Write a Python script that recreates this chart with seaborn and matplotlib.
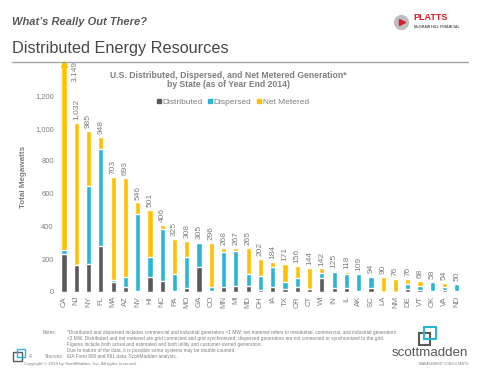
import matplotlib

matplotlib.use("Agg")
import matplotlib.pyplot as plt
import pandas as pd
import seaborn as sns
from matplotlib.lines import Line2D
from matplotlib.patches import Rectangle

states = ["CA", "NJ", "NY", "FL", "MA", "AZ", "NV", "HI", "NC", "PA", "MO",
          "GA", "CO", "MN", "MI", "MD", "OH", "IA", "TX", "OR", "CT", "WI",
          "IN", "IL", "AK", "SC", "LA", "NM", "DE", "VT", "OK", "VA", "ND"]
totals = [3149, 1032, 985, 948, 703, 693, 546, 501, 406, 325, 308, 305, 296,
          268, 267, 265, 202, 184, 171, 156, 144, 142, 125, 118, 109, 94, 90,
          76, 76, 68, 58, 54, 50]
distributed = [230, 161, 170, 282, 61, 27, 5, 92, 65, 2, 25, 153, 6, 27, 35,
               35, 10, 31, 18, 31, 18, 82, 21, 23, 3, 21, 0, 0, 18, 10, 5, 8, 2]
dispersed = [27, 0, 479, 589, 11, 63, 472, 118, 319, 104, 185, 147, 25, 218,
             216, 73, 88, 118, 39, 51, 0, 34, 97, 83, 106, 70, 0, 0, 27, 27,
             53, 21, 48]
# net metered = totals - distributed - dispersed

GREY = "#7f7f7f"
DARK = "#595959"
TEAL = "#29b6d4"
GOLD = "#ffc000"

df = pd.DataFrame({"state": states, "total": totals,
                   "distributed": distributed, "dispersed": dispersed})
df["dist_disp"] = df["distributed"] + df["dispersed"]

sns.set_style("white")
plt.rcParams["font.family"] = ["Liberation Sans", "DejaVu Sans"]

fig = plt.figure(figsize=(4.8, 3.71), dpi=100)
ax = fig.add_axes([0.1206, 0.2137, 0.844, 0.617])

# stacked bars: draw cumulative totals back to front
sns.barplot(data=df, x="state", y="total", color=GOLD, width=0.42,
            saturation=1, ax=ax)
sns.barplot(data=df, x="state", y="dist_disp", color=TEAL, width=0.42,
            saturation=1, ax=ax)
sns.barplot(data=df, x="state", y="distributed", color=DARK, width=0.42,
            saturation=1, ax=ax)

ymax = 1400
ax.set_ylim(0, ymax)
ax.set_xlim(-0.5, len(states) - 0.5)
ax.set_yticks(range(0, 1201, 200))
ax.set_yticklabels([f"{v:,}" for v in range(0, 1201, 200)])
ax.tick_params(axis="both", colors=GREY, labelsize=5.4, length=0, pad=3)
ax.tick_params(axis="x", rotation=90, labelsize=5.6)
ax.set_xlabel("")
ax.set_ylabel("Total Megawatts", color=GREY, fontsize=5.8, fontweight="bold",
              labelpad=6)
sns.despine(ax=ax, left=True, bottom=True)
ax.axhline(0, color="#d9d9d9", lw=0.8)

# value labels
for i, t in enumerate(totals):
    if t > ymax:
        ax.plot(i, ymax - 5, marker="^", ms=4, color=GOLD, clip_on=False)
        ax.text(i + 0.8, ymax + 10, f"{t:,}", rotation=90, ha="center",
                va="top", fontsize=6, color=GREY)
    else:
        ax.text(i, t + 18, f"{t:,}", rotation=90, ha="center", va="bottom",
                fontsize=6, color=GREY)

ax.text(0.42, 0.965, "U.S. Distributed, Dispersed, and Net Metered Generation*\n"
        "by State (as of Year End 2014)", transform=ax.transAxes, ha="center",
        va="top", fontsize=6.2, fontweight="bold", color=GREY, linespacing=1.05)

handles = [Line2D([], [], marker="s", ls="", color=c, ms=3)
           for c in (DARK, TEAL, GOLD)]
ax.legend(handles, ["Distributed", "Dispersed", "Net Metered"], ncol=3,
          loc="center", bbox_to_anchor=(0.43, 0.83), frameon=False,
          fontsize=6, labelcolor=GREY, handletextpad=0.05, columnspacing=0.5,
          handlelength=0.8)

# slide header
fig.text(0.025, 0.94, "What\u2019s Really Out There?", fontsize=8,
         fontstyle="italic", fontweight="bold", color=DARK, va="center")
fig.text(0.025, 0.87, "Distributed Energy Resources", fontsize=11.7,
         color="#474747", va="center")
fig.add_artist(Line2D([0.025, 0.975], [0.832, 0.832], color="#a6a6a6",
                      lw=1.0, transform=fig.transFigure))
fig.add_artist(Line2D([0.835], [0.94], marker="o", ms=10, color="#bfbfbf",
                      transform=fig.transFigure))
fig.add_artist(Line2D([0.838], [0.94], marker=">", ms=5, color="#d71e2b",
                      transform=fig.transFigure))
fig.text(0.862, 0.952, "PLATTS", fontsize=6.5, fontweight="bold",
         color="#d71e2b", va="center")
fig.text(0.862, 0.928, "McGRAW HILL FINANCIAL", fontsize=2.6,
         fontweight="bold", color=DARK, va="center")

# notes
notes = ("*Distributed and dispersed includes commercial and industrial generators <1 MW; "
         "net metered refers to residential, commercial, and industrial generators\n"
         "<2 MW. Distributed and net metered are grid connected and grid synchronized; "
         "dispersed generators are not connected or synchronized to the grid.\n"
         "Figures include both actual and estimated and both utility and "
         "customer-owned generation.\n"
         "Due to nature of the data, it is possible some systems may be double counted.")
fig.text(0.088, 0.11, "Notes:", fontsize=3.4, color=GREY, va="top")
fig.text(0.14, 0.11, notes, fontsize=3.4, color=GREY, va="top",
         linespacing=1.25)
fig.text(0.133, 0.04, "Sources:", fontsize=3.4, color=GREY, va="center",
         ha="right")
fig.text(0.14, 0.04, "EIA Form 860 and 861 data; ScottMadden analysis.",
         fontsize=3.4, color=GREY, va="center")
fig.text(0.06, 0.04, "4", fontsize=3.8, color=GREY, va="center")
fig.text(0.05, 0.02, "Copyright \u00a9 2016 by ScottMadden, Inc. All rights reserved.",
         fontsize=3.2, color=GREY, va="center")

# logos
fig.add_artist(Rectangle((0.028, 0.028), 0.017, 0.022, fill=False, lw=1.0,
                         edgecolor=DARK, transform=fig.transFigure))
fig.add_artist(Rectangle((0.036, 0.038), 0.017, 0.022, fill=False, lw=1.0,
                         edgecolor=TEAL, transform=fig.transFigure))
fig.add_artist(Rectangle((0.872, 0.07), 0.024, 0.032, fill=False, lw=1.5,
                         edgecolor=DARK, transform=fig.transFigure))
fig.add_artist(Rectangle((0.884, 0.086), 0.024, 0.032, fill=False, lw=1.5,
                         edgecolor=TEAL, transform=fig.transFigure))
fig.text(0.975, 0.048, "scottmadden", fontsize=9.6, color=DARK,
         ha="right", va="center")
fig.text(0.975, 0.018, "MANAGEMENT CONSULTANTS", fontsize=2.4, color=GREY,
         ha="right", va="center")

fig.savefig("out.png", dpi=100)
